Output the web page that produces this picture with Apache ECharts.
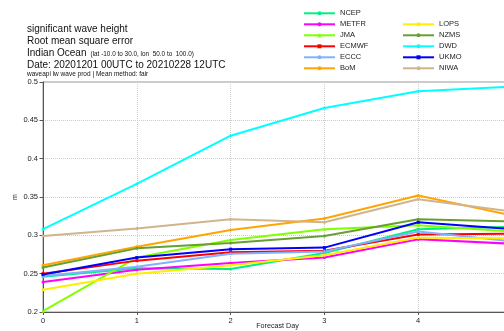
<!DOCTYPE html>
<html>
<head>
<meta charset="utf-8">
<script src="https://cdn.jsdelivr.net/npm/echarts@6/dist/echarts.min.js"></script>
<style>
html,body{margin:0;padding:0;background:#fff;}
#chart{width:504px;height:331px;}
</style>
</head>
<body>
<div id="chart"></div>
<script>
const days = [0, 1, 2, 3, 4, 5];
const yTicks = [0.2, 0.25, 0.3, 0.35, 0.4, 0.45, 0.5];
const NCEP  = [0.246, 0.257, 0.256, 0.277, 0.308, 0.311];
const METFR = [0.239, 0.255, 0.264, 0.271, 0.295, 0.289];
const JMA   = [0.201, 0.271, 0.294, 0.308, 0.313, 0.305];
const ECMWF = [0.250, 0.267, 0.278, 0.280, 0.301, 0.302];
const ECCC  = [0.247, 0.259, 0.276, 0.279, 0.305, 0.292];
const BoM   = [0.261, 0.285, 0.307, 0.322, 0.352, 0.326];
const LOPS  = [0.229, 0.250, 0.261, 0.274, 0.297, 0.296];
const NZMS  = [0.258, 0.283, 0.290, 0.299, 0.321, 0.318];
const DWD   = [0.308, 0.367, 0.430, 0.466, 0.488, 0.494];
const UKMO  = [0.249, 0.271, 0.282, 0.284, 0.317, 0.308];
const NIWA  = [0.299, 0.309, 0.321, 0.317, 0.347, 0.331];

const seriesDefs = [
  {name:'NCEP',  data:NCEP,  color:'#00f080', symbol:'circle'},
  {name:'METFR', data:METFR, color:'#ff00ff', symbol:'circle'},
  {name:'JMA',   data:JMA,   color:'#80ff00', symbol:'triangle'},
  {name:'ECMWF', data:ECMWF, color:'#ff0000', symbol:'rect'},
  {name:'ECCC',  data:ECCC,  color:'#80b0ff', symbol:'circle'},
  {name:'BoM',   data:BoM,   color:'#ffa500', symbol:'circle'},
  {name:'LOPS',  data:LOPS,  color:'#ffee00', symbol:'circle'},
  {name:'NZMS',  data:NZMS,  color:'#66a030', symbol:'circle'},
  {name:'DWD',   data:DWD,   color:'#00ffff', symbol:'circle'},
  {name:'UKMO',  data:UKMO,  color:'#0000ff', symbol:'rect'},
  {name:'NIWA',  data:NIWA,  color:'#d2b48c', symbol:'circle'}
];

const FONT = 'Liberation Sans, Arial, sans-serif';
const chart = echarts.init(document.getElementById('chart'), null, {renderer:'canvas'});

const legendCommon = {
  orient:'vertical', itemWidth:31, itemHeight:5, itemGap:3, padding:0,
  textStyle:{fontFamily:FONT, fontSize:7.5, color:'#222', lineHeight:8},
  selectedMode:false
};

chart.setOption({
  animation:false,
  backgroundColor:'#fff',
  grid:{left:43, right:-8, top:82, bottom:19, show:true, borderColor:'#999', borderWidth:1,
        containLabel:false, outerBoundsMode:'none'},
  legend:[
    Object.assign({left:303, top:9.3, data:['NCEP','METFR','JMA','ECMWF','ECCC','BoM']}, legendCommon),
    Object.assign({left:402, top:20.3, data:['LOPS','NZMS','DWD','UKMO','NIWA']}, legendCommon)
  ],
  graphic:[
    {type:'text', style:{x:27, y:29.5, text:'significant wave height', font:'10px '+FONT, fill:'#111', verticalAlign:'middle'}},
    {type:'text', style:{x:27, y:41.5, text:'Root mean square error', font:'10px '+FONT, fill:'#111', verticalAlign:'middle'}},
    {type:'text', style:{x:27, y:53.5, text:'Indian Ocean', font:'10px '+FONT, fill:'#111', verticalAlign:'middle'}},
    {type:'text', style:{x:90.5, y:54.5, text:'(lat -10.0 to 30.0, lon  50.0 to  100.0)', font:'6.4px '+FONT, fill:'#111', verticalAlign:'middle'}},
    {type:'text', style:{x:27, y:65.5, text:'Date: 20201201 00UTC to 20210228 12UTC', font:'10px '+FONT, fill:'#111', verticalAlign:'middle'}},
    {type:'text', style:{x:27, y:74, text:'waveapi lw wave prod | Mean method: fair', font:'6.5px '+FONT, fill:'#111', verticalAlign:'middle'}}
  ],
  xAxis:{
    type:'value', min:days[0], max:days[days.length-1], interval:1,
    name:'Forecast Day', nameLocation:'middle', nameGap:11, nameMoveOverlap:false,
    nameTextStyle:{fontFamily:FONT, fontSize:7.2, color:'#222'},
    axisLine:{show:true, lineStyle:{color:'#555', width:1}},
    axisTick:{show:true, length:3, lineStyle:{color:'#555'}},
    axisLabel:{fontFamily:FONT, fontSize:7.5, color:'#222', margin:5},
    splitLine:{show:true, lineStyle:{color:'#ccc', type:'dotted', width:1}}
  },
  yAxis:{
    type:'value', min:yTicks[0], max:yTicks[yTicks.length-1], interval:0.05,
    name:'m', nameLocation:'middle', nameGap:24, nameMoveOverlap:false,
    nameTextStyle:{fontFamily:FONT, fontSize:7, color:'#222'},
    axisLine:{show:true, lineStyle:{color:'#555', width:1}},
    axisTick:{show:true, length:3.5, lineStyle:{color:'#555'}},
    axisLabel:{fontFamily:FONT, fontSize:7.5, color:'#222', margin:5},
    splitLine:{show:true, lineStyle:{color:'#ccc', type:'dotted', width:1}}
  },
  series: seriesDefs.map(s => ({
    name:s.name, type:'line',
    data: days.map((d,i) => [d, s.data[i]]),
    symbol:s.symbol, symbolSize:3, showSymbol:true,
    lineStyle:{color:s.color, width:2},
    itemStyle:{color:s.color},
    emphasis:{disabled:true}
  }))
});
</script>
</body>
</html>
